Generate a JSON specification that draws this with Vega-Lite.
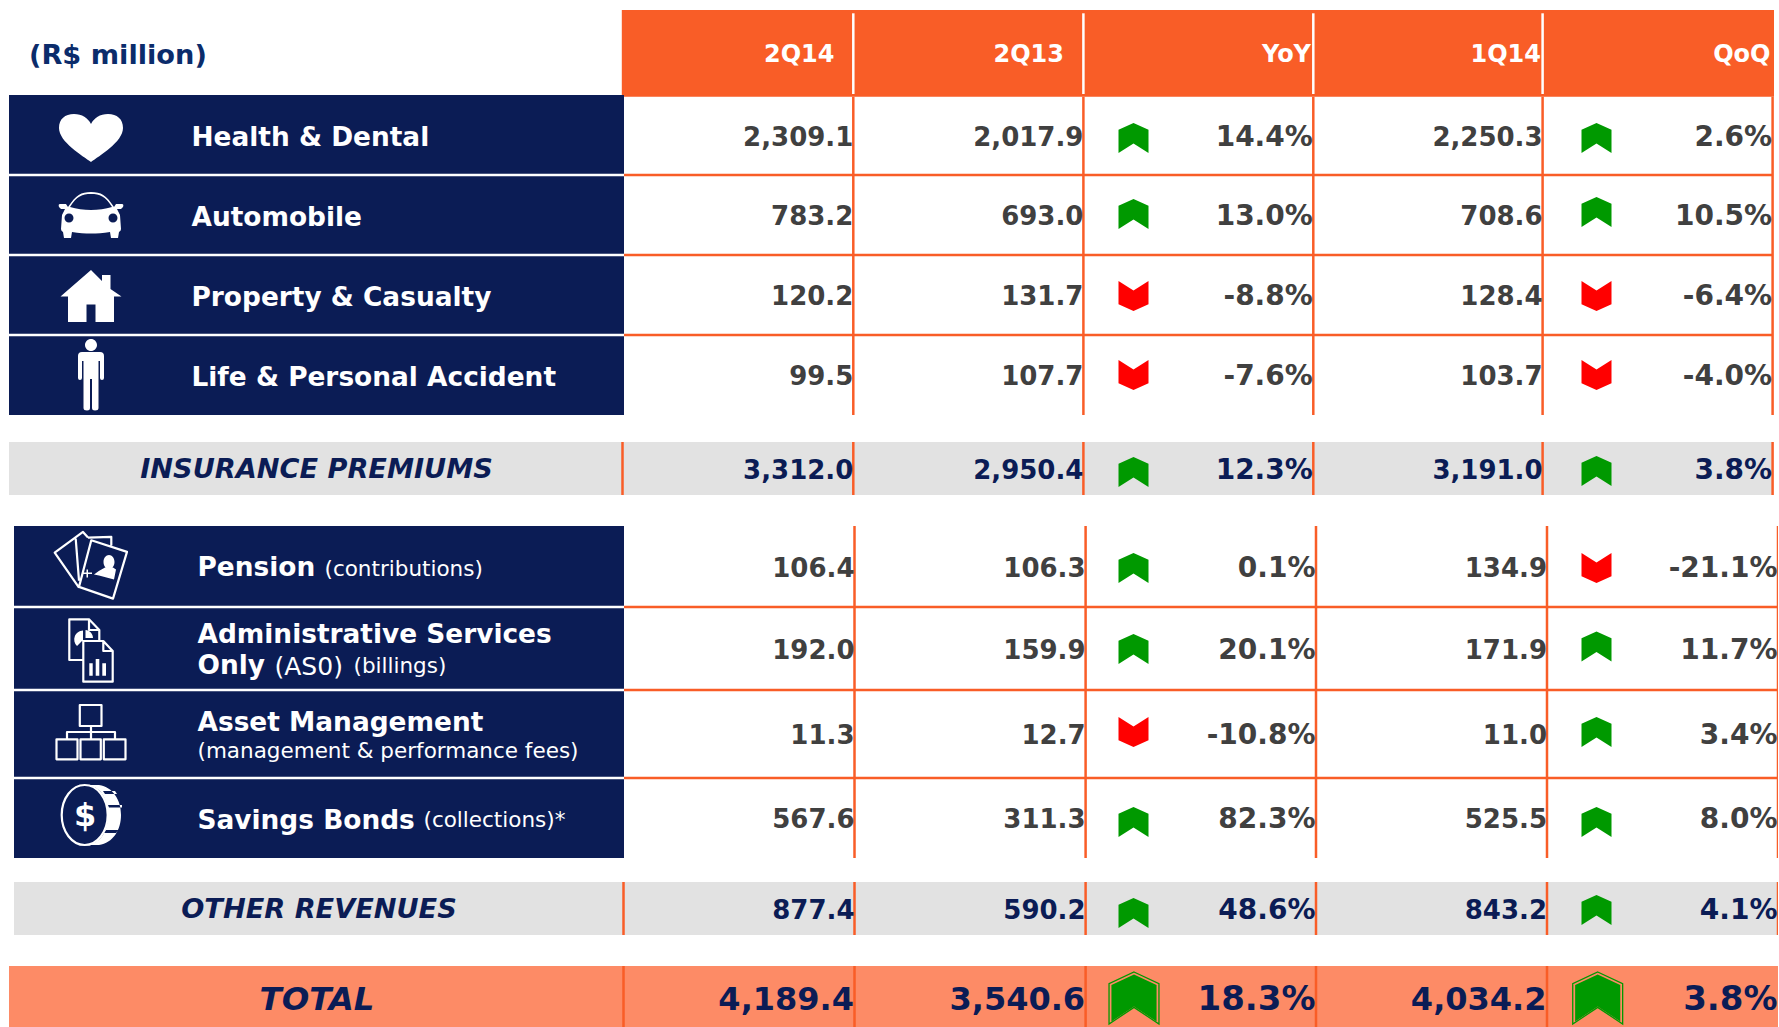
{
"$schema":"https://vega.github.io/schema/vega-lite/v6.json",
"width":1779,"height":1027,"padding":0,
"autosize":{"type":"fit","contains":"padding"},
"background":"white",
"config":{"view":{"stroke":null}},
"datasets":{
"header":[{"x":36,"x2":37,"y":0,"y2":20}],
"navy":[{"x":0,"x2":26,"y":19,"y2":5},{"x":7,"x2":26,"y":8,"y2":12}],
"grey":[{"x":0,"x2":6,"y":6,"y2":7},{"x":7,"x2":13,"y":13,"y2":14}],
"total":[{"x":0,"x2":30,"y":15,"y2":16}],
"whiteH":[{"x":0,"x2":26,"y":2},{"x":0,"x2":26,"y":3},{"x":0,"x2":26,"y":4},{"x":7,"x2":26,"y":9},{"x":7,"x2":26,"y":10},{"x":7,"x2":26,"y":11}],
"orangeH":[{"x":26,"x2":6,"y":2},{"x":26,"x2":6,"y":3},{"x":26,"x2":6,"y":4},{"x":26,"x2":13,"y":9},{"x":26,"x2":13,"y":10},{"x":26,"x2":13,"y":11}],
"orangeV":[{"x":2,"y":20,"y2":5},{"x":3,"y":20,"y2":5},{"x":4,"y":20,"y2":5},{"x":5,"y":20,"y2":5},{"x":6,"y":20,"y2":5},
{"x":1,"y":6,"y2":7},{"x":2,"y":6,"y2":7},{"x":3,"y":6,"y2":7},{"x":4,"y":6,"y2":7},{"x":5,"y":6,"y2":7},{"x":6,"y":6,"y2":7},
{"x":9,"y":8,"y2":12},{"x":10,"y":8,"y2":12},{"x":11,"y":8,"y2":12},{"x":12,"y":8,"y2":12},{"x":13,"y":8,"y2":12},
{"x":8,"y":13,"y2":14},{"x":9,"y":13,"y2":14},{"x":10,"y":13,"y2":14},{"x":11,"y":13,"y2":14},{"x":12,"y":13,"y2":14},{"x":13,"y":13,"y2":14},
{"x":8,"y":15,"y2":16},{"x":9,"y":15,"y2":16},{"x":10,"y":15,"y2":16},{"x":11,"y":15,"y2":16},{"x":12,"y":15,"y2":16}],
"whiteV":[{"x":2,"y":17,"y2":18},{"x":3,"y":17,"y2":18},{"x":4,"y":17,"y2":18},{"x":5,"y":17,"y2":18}],
"cellsGrey":[
{"x":2,"y":1.5,"text":"2,309.1"},{"x":3,"y":1.5,"text":"2,017.9"},{"x":5,"y":1.5,"text":"2,250.3"},
{"x":2,"y":2.5,"text":"783.2"},{"x":3,"y":2.5,"text":"693.0"},{"x":5,"y":2.5,"text":"708.6"},
{"x":2,"y":3.5,"text":"120.2"},{"x":3,"y":3.5,"text":"131.7"},{"x":5,"y":3.5,"text":"128.4"},
{"x":2,"y":4.5,"text":"99.5"},{"x":3,"y":4.5,"text":"107.7"},{"x":5,"y":4.5,"text":"103.7"},
{"x":9,"y":8.5,"text":"106.4"},{"x":10,"y":8.5,"text":"106.3"},{"x":12,"y":8.5,"text":"134.9"},
{"x":9,"y":9.5,"text":"192.0"},{"x":10,"y":9.5,"text":"159.9"},{"x":12,"y":9.5,"text":"171.9"},
{"x":9,"y":10.5,"text":"11.3"},{"x":10,"y":10.5,"text":"12.7"},{"x":12,"y":10.5,"text":"11.0"},
{"x":9,"y":11.5,"text":"567.6"},{"x":10,"y":11.5,"text":"311.3"},{"x":12,"y":11.5,"text":"525.5"}],
"pctGrey":[
{"x":4,"y":1.5,"text":"14.4%"},{"x":6,"y":1.5,"text":"2.6%"},
{"x":4,"y":2.5,"text":"13.0%"},{"x":6,"y":2.5,"text":"10.5%"},
{"x":4,"y":3.5,"text":"-8.8%"},{"x":6,"y":3.5,"text":"-6.4%"},
{"x":4,"y":4.5,"text":"-7.6%"},{"x":6,"y":4.5,"text":"-4.0%"},
{"x":11,"y":8.5,"text":"0.1%"},{"x":13,"y":8.5,"text":"-21.1%"},
{"x":11,"y":9.5,"text":"20.1%"},{"x":13,"y":9.5,"text":"11.7%"},
{"x":11,"y":10.5,"text":"-10.8%"},{"x":13,"y":10.5,"text":"3.4%"},
{"x":11,"y":11.5,"text":"82.3%"},{"x":13,"y":11.5,"text":"8.0%"}],
"cellsNavy":[
{"x":2,"y":6.5,"text":"3,312.0"},{"x":3,"y":6.5,"text":"2,950.4"},{"x":5,"y":6.5,"text":"3,191.0"},
{"x":9,"y":13.5,"text":"877.4"},{"x":10,"y":13.5,"text":"590.2"},{"x":12,"y":13.5,"text":"843.2"}],
"pctNavy":[{"x":4,"y":6.5,"text":"12.3%"},{"x":6,"y":6.5,"text":"3.8%"},{"x":11,"y":13.5,"text":"48.6%"},{"x":13,"y":13.5,"text":"4.1%"}],
"cellsTotal":[{"x":9,"y":15.5,"text":"4,189.4"},{"x":10,"y":15.5,"text":"3,540.6"},{"x":12,"y":15.5,"text":"4,034.2"}],
"pctTotal":[{"x":11,"y":15.5,"text":"18.3%"},{"x":13,"y":15.5,"text":"3.8%"}],
"headers":[{"x":31,"y":42,"text":"2Q14"},{"x":32,"y":42,"text":"2Q13"},{"x":33,"y":42,"text":"YoY"},{"x":34,"y":42,"text":"1Q14"},{"x":35,"y":42,"text":"QoQ"}],
"unit":[{"x":25,"y":42,"text":"(R$ million)"}],
"labels":[
{"x":19,"y":1.5,"text":"Health & Dental"},{"x":19,"y":2.5,"text":"Automobile"},{"x":19,"y":3.5,"text":"Property & Casualty"},{"x":19,"y":4.5,"text":"Life & Personal Accident"},
{"x":20,"y":36,"text":"Pension"},{"x":20,"y":37,"text":"Administrative Services"},{"x":20,"y":38,"text":"Only"},{"x":20,"y":39,"text":"Asset Management"},{"x":20,"y":41,"text":"Savings Bonds"}],
"subs":[
{"x":21,"y":45,"text":"(contributions)"},{"x":23,"y":46,"text":"(billings)"},{"x":20,"y":40,"text":"(management & performance fees)"},{"x":24,"y":47,"text":"(collections)*"}],
"subBig":[{"x":22,"y":46,"text":"(AS0)"}],
"sections":[{"x":27,"y":6.5,"text":"INSURANCE PREMIUMS"},{"x":28,"y":13.5,"text":"OTHER REVENUES"}],
"totalLabel":[{"x":29,"y":15.5,"text":"TOTAL"}],
"up":[{"x":14,"y":21},{"x":15,"y":21},{"x":14,"y":22},{"x":15,"y":23},{"x":14,"y":26},{"x":15,"y":27},{"x":14,"y":28},{"x":14,"y":29},{"x":15,"y":30},{"x":15,"y":31},{"x":14,"y":32},{"x":15,"y":32},{"x":14,"y":33},{"x":15,"y":34}],
"down":[{"x":14,"y":24},{"x":15,"y":24},{"x":14,"y":25},{"x":15,"y":25},{"x":15,"y":28},{"x":14,"y":31}],
"upBig":[{"x":16,"y":35},{"x":17,"y":35}],
"iconsFilled":[{"x":18,"y":21,"icon":"heart"},{"x":18,"y":44,"icon":"car"},{"x":18,"y":24,"icon":"house"},{"x":18,"y":25,"icon":"person"},{"x":18,"y":36,"icon":"bust"},{"x":18,"y":48,"icon":"docfill"},{"x":18,"y":49,"icon":"coinedge"}],
"iconsLine":[{"x":18,"y":36,"icon":"cards"},{"x":18,"y":48,"icon":"docs"},{"x":18,"y":31,"icon":"org"},{"x":18,"y":49,"icon":"coinface"}],
"dollar":[{"x":38,"y":43,"text":"$"}]
},
"encoding":{
"x":{"field":"x","type":"quantitative","axis":null,"scale":{"zero":false,"nice":false,
"domain":[0,1,2,3,4,5,6,7,8,9,10,11,12,13,14,15,16,17,18,19,20,21,22,23,24,25,26,27,28,29,30,31,32,33,34,35,36,37,38],
"range":[9,622.5,853.3,1083.4,1313.3,1542.6,1772.6,14,623.5,854.5,1085.6,1316,1547,1778,1133.5,1596.5,1134,1597.7,91,191.5,197.5,324.5,274.5,353.5,423.5,29,624,316.5,319,317,1779,834.5,1064,1311,1541,1770.5,621.8,1774,85]}},
"y":{"field":"y","type":"quantitative","axis":null,"scale":{"zero":false,"nice":false,
"domain":[0,1,2,3,4,5,6,7,8,9,10,11,12,13,14,15,16,17,18,19,20,21,22,23,24,25,26,27,28,29,30,31,32,33,34,35,36,37,38,39,40,41,42,43,44,45,46,47,48,49],
"range":[10,96,175,255,335,415,442,495,526,607,690,778,858,882,935,966,1034,13.3,94,95,96.7,138,214,212,296,375,472,471,568,649,646.5,732,822,913,910,998,565.6,632.2,663.6,720.9,751.7,818,55,816,215,569.7,666.8,821,650,815]}}
},
"layer":[
{"data":{"name":"header"},"mark":{"type":"rect","color":"#F95D27"},"encoding":{"x2":{"field":"x2"},"y2":{"field":"y2"}}},
{"data":{"name":"navy"},"mark":{"type":"rect","color":"#0B1C55"},"encoding":{"x2":{"field":"x2"},"y2":{"field":"y2"}}},
{"data":{"name":"grey"},"mark":{"type":"rect","color":"#E2E2E2"},"encoding":{"x2":{"field":"x2"},"y2":{"field":"y2"}}},
{"data":{"name":"total"},"mark":{"type":"rect","color":"#FD8B66","clip":true},"encoding":{"x2":{"field":"x2"},"y2":{"field":"y2"}}},
{"data":{"name":"whiteH"},"mark":{"type":"rule","color":"#FFFFFF","strokeWidth":2.5},"encoding":{"x2":{"field":"x2"}}},
{"data":{"name":"orangeH"},"mark":{"type":"rule","color":"#F95D27","strokeWidth":2.5},"encoding":{"x2":{"field":"x2"}}},
{"data":{"name":"orangeV"},"mark":{"type":"rule","color":"#F95D27","strokeWidth":2.5,"clip":true},"encoding":{"y2":{"field":"y2"}}},
{"data":{"name":"whiteV"},"mark":{"type":"rule","color":"#FFFFFF","strokeWidth":2.5},"encoding":{"y2":{"field":"y2"}}},
{"data":{"name":"cellsGrey"},"mark":{"type":"text","align":"right","baseline":"middle","dy":2,"font":"DejaVu Sans","fontWeight":"bold","fontSize":26,"color":"#404040"},"encoding":{"text":{"field":"text"}}},
{"data":{"name":"pctGrey"},"mark":{"type":"text","align":"right","baseline":"middle","dy":2,"dx":-0.5,"font":"DejaVu Sans","fontWeight":"bold","fontSize":28,"color":"#404040"},"encoding":{"text":{"field":"text"}}},
{"data":{"name":"cellsNavy"},"mark":{"type":"text","align":"right","baseline":"middle","dy":2,"font":"DejaVu Sans","fontWeight":"bold","fontSize":26,"color":"#0B1C55"},"encoding":{"text":{"field":"text"}}},
{"data":{"name":"pctNavy"},"mark":{"type":"text","align":"right","baseline":"middle","dy":2,"dx":-0.5,"font":"DejaVu Sans","fontWeight":"bold","fontSize":28,"color":"#0B1C55"},"encoding":{"text":{"field":"text"}}},
{"data":{"name":"cellsTotal"},"mark":{"type":"text","align":"right","baseline":"middle","dx":-0.5,"font":"DejaVu Sans","fontWeight":"bold","fontSize":32,"color":"#0B1C55"},"encoding":{"text":{"field":"text"}}},
{"data":{"name":"pctTotal"},"mark":{"type":"text","align":"right","baseline":"middle","dx":-0.5,"font":"DejaVu Sans","fontWeight":"bold","fontSize":34,"color":"#0B1C55"},"encoding":{"text":{"field":"text"}}},
{"data":{"name":"headers"},"mark":{"type":"text","align":"right","baseline":"middle","font":"DejaVu Sans","fontWeight":"bold","fontSize":24,"color":"#FFFFFF"},"encoding":{"text":{"field":"text"}}},
{"data":{"name":"unit"},"mark":{"type":"text","align":"left","baseline":"middle","dy":1,"font":"DejaVu Sans","fontWeight":"bold","fontSize":27.2,"color":"#0B2C6B"},"encoding":{"text":{"field":"text"}}},
{"data":{"name":"labels"},"mark":{"type":"text","align":"left","baseline":"middle","dy":2.5,"font":"DejaVu Sans","fontWeight":"bold","fontSize":26.4,"color":"#FFFFFF"},"encoding":{"text":{"field":"text"}}},
{"data":{"name":"subs"},"mark":{"type":"text","align":"left","baseline":"middle","font":"DejaVu Sans","fontSize":21.5,"color":"#FFFFFF"},"encoding":{"text":{"field":"text"}}},
{"data":{"name":"subBig"},"mark":{"type":"text","align":"left","baseline":"middle","font":"DejaVu Sans","fontSize":25,"color":"#FFFFFF"},"encoding":{"text":{"field":"text"}}},
{"data":{"name":"sections"},"mark":{"type":"text","align":"center","baseline":"middle","dy":1.5,"font":"DejaVu Sans","fontWeight":"bold","fontStyle":"italic","fontSize":27.2,"color":"#0B1C55"},"encoding":{"text":{"field":"text"}}},
{"data":{"name":"totalLabel"},"mark":{"type":"text","align":"center","baseline":"middle","font":"DejaVu Sans","fontWeight":"bold","fontStyle":"italic","fontSize":32.4,"color":"#0B1C55"},"encoding":{"text":{"field":"text"}}},
{"data":{"name":"up"},"mark":{"type":"point","filled":true,"opacity":1,"size":900,"color":"#009900","shape":"M0,-1 L1,-0.55 L1,1 L0,0.36 L-1,1 L-1,-0.55Z"}},
{"data":{"name":"down"},"mark":{"type":"point","filled":true,"opacity":1,"size":900,"color":"#FF0000","shape":"M0,1 L1,0.55 L1,-1 L0,-0.36 L-1,-1 L-1,0.55Z"}},
{"data":{"name":"upBig"},"mark":{"type":"point","filled":false,"opacity":1,"size":2704,"color":"#009900","strokeWidth":1.3,"shape":"M0,-1 L0.96,-0.55 L0.96,1 L0,0.36 L-0.96,1 L-0.96,-0.55Z"}},
{"data":{"name":"upBig"},"mark":{"type":"point","filled":true,"opacity":1,"size":2209,"color":"#009900","shape":"M0,-1 L0.96,-0.55 L0.96,1 L0,0.36 L-0.96,1 L-0.96,-0.55Z"}},
{"data":{"name":"iconsFilled"},"mark":{"type":"point","filled":true,"opacity":1,"size":4,"color":"#FFFFFF"},"encoding":{"shape":{"field":"icon","type":"nominal","legend":null,"scale":{"domain":["heart","car","house","person","bust","docfill","coinedge","cards","docs","org","coinface"],"range":[
"M0,24 C-8,18 -32,4 -32,-10 C-32,-19 -26,-24 -17,-24 C-9,-24 -3,-20 0,-14 C3,-20 9,-24 17,-24 C26,-24 32,-19 32,-10 C32,4 8,18 0,24Z",
"M-23,-8 C-15,-20 -10,-23 0,-23 C10,-23 15,-20 23,-8 L25,-11 L31,-11 Q33,-11 32,-8 L30,-6 L26,-6 L29,0 L30,14 Q30,16 28,17 L27,23 L20,23 L19,17 C5,19 -5,19 -19,17 L-20,23 L-27,23 L-28,17 Q-30,16 -30,14 L-29,0 L-26,-6 L-30,-6 L-32,-8 Q-33,-11 -31,-11 L-25,-11 Z M-21,-8 C-8,-4 8,-4 21,-8 C14,-19 9,-21 0,-21 C-9,-21 -14,-19 -21,-8Z M-17.5,3 A4.5,4.5 0 1 0 -26.5,3 A4.5,4.5 0 1 0 -17.5,3Z M26.5,3 A4.5,4.5 0 1 0 17.5,3 A4.5,4.5 0 1 0 26.5,3Z",
"M0,-26 L11,-15 L11,-21 L19.5,-21 L19.5,-7 L30.5,0.5 L23,0.5 L23,26 L4.5,26 L4.5,8.5 L-4.5,8.5 L-4.5,26 L-23,26 L-23,0.5 L-30.5,0.5Z",
"M-9,-23 L9,-23 Q13,-23 13,-19 L13,3 Q13,5 11,5 Q9,5 9,3 L9,-14 L7.5,-14 L7.5,33 Q7.5,35.5 4,35.5 Q1,35.5 1,33 L1,4 L-1,4 L-1,33 Q-1,35.5 -4,35.5 Q-7.5,35.5 -7.5,33 L-7.5,-14 L-9,-14 L-9,3 Q-9,5 -11,5 Q-13,5 -13,3 L-13,-19 Q-13,-23 -9,-23Z M6,-30 A6,6 0 1 1 -6,-30 A6,6 0 1 1 6,-30Z",
"M23.5,-3.5 A5.5,7 0 1 1 12.5,-3.5 A5.5,7 0 1 1 23.5,-3.5Z M14,2 L22,2 L25,4 L23,14 L8,10 L3,9 Q8,5 14,2Z M-5,7 L-4.5,7 L-4.5,4 L-3,4 L-3,7 L1,7 L1,8.5 L-3,8.5 L-3,12 L-4.5,12 L-4.5,8.5 L-8,8.5 L-8,7Z",
"M-8,-19.5 A9,9 0 0 0 -14,-4 L-9,-9 L-8,-9Z M-5.5,-20 A8,8 0 0 1 2,-12 L-5.5,-12Z M-1.7,13.3 L1.7,13.3 L1.7,25.7 L-1.7,25.7Z M4.7,9 L8.3,9 L8.3,25.7 L4.7,25.7Z M11.3,13.3 L15,13.3 L15,25.7 L11.3,25.7Z",
"M-6,-30 L8,-30 C22,-28 30,-15 30,0 C30,15 22,28 8,30 L-6,30 C10,30 17,15 17,0 C17,-15 10,-30 -6,-30Z M12,-24 L14,-21 L26,-21 L24,-24Z M17,-10 L18,-7.5 L31,-7.5 L31,-10Z M15,15 L13,18 L25,18 L27,15Z",
"M0.3,-25.3 L36,-13.7 L22,33 L-12,21.3Z M-12,22 L-36.3,-13 L-8,-33.7 L-3,-28 M-15.3,-27 L-12,15 M-3,-28 L20.3,-28.7 L20.3,-20",
"M-7.7,10 L-21.7,10 L-21.7,-30.7 L-2,-30.7 L8.3,-20 L8.3,-10 M-2,-30.7 L-2,-20 L8.3,-20 M-7.7,-9 L12.3,-9 L21.7,1 L21.7,31.7 L-7.7,31.7Z M12.3,-9 L12.3,1 L21.7,1",
"M-11.2,-27 L10.5,-27 L10.5,-6 L-11.2,-6Z M-34.5,7.3 L-13.5,7.3 L-13.5,27.3 L-34.5,27.3Z M-10.5,7.3 L9.8,7.3 L9.8,27.3 L-10.5,27.3Z M12.8,7.3 L34.5,7.3 L34.5,27.3 L12.8,27.3Z M0,-6 L0,7.3 M-24,7.3 L-24,0 L24,0 L24,7.3",
"M-6.3,-30 A23,30 0 1 1 -6.3,30 A23,30 0 1 1 -6.3,-30Z"
]}}}},
{"data":{"name":"iconsLine"},"mark":{"type":"point","filled":false,"opacity":1,"size":4,"color":"#FFFFFF","strokeWidth":2.2,"strokeJoin":"round"},"encoding":{"shape":{"field":"icon","type":"nominal","legend":null,"scale":{"domain":["heart","car","house","person","bust","docfill","coinedge","cards","docs","org","coinface"],"range":[
"M0,24 C-8,18 -32,4 -32,-10 C-32,-19 -26,-24 -17,-24 C-9,-24 -3,-20 0,-14 C3,-20 9,-24 17,-24 C26,-24 32,-19 32,-10 C32,4 8,18 0,24Z",
"M-23,-8 C-15,-20 -10,-23 0,-23 C10,-23 15,-20 23,-8 L25,-11 L31,-11 Q33,-11 32,-8 L30,-6 L26,-6 L29,0 L30,14 Q30,16 28,17 L27,23 L20,23 L19,17 C5,19 -5,19 -19,17 L-20,23 L-27,23 L-28,17 Q-30,16 -30,14 L-29,0 L-26,-6 L-30,-6 L-32,-8 Q-33,-11 -31,-11 L-25,-11 Z M-21,-8 C-8,-4 8,-4 21,-8 C14,-19 9,-21 0,-21 C-9,-21 -14,-19 -21,-8Z M-17.5,3 A4.5,4.5 0 1 0 -26.5,3 A4.5,4.5 0 1 0 -17.5,3Z M26.5,3 A4.5,4.5 0 1 0 17.5,3 A4.5,4.5 0 1 0 26.5,3Z",
"M0,-26 L11,-15 L11,-21 L19.5,-21 L19.5,-7 L30.5,0.5 L23,0.5 L23,26 L4.5,26 L4.5,8.5 L-4.5,8.5 L-4.5,26 L-23,26 L-23,0.5 L-30.5,0.5Z",
"M-9,-23 L9,-23 Q13,-23 13,-19 L13,3 Q13,5 11,5 Q9,5 9,3 L9,-14 L7.5,-14 L7.5,33 Q7.5,35.5 4,35.5 Q1,35.5 1,33 L1,4 L-1,4 L-1,33 Q-1,35.5 -4,35.5 Q-7.5,35.5 -7.5,33 L-7.5,-14 L-9,-14 L-9,3 Q-9,5 -11,5 Q-13,5 -13,3 L-13,-19 Q-13,-23 -9,-23Z M6,-30 A6,6 0 1 1 -6,-30 A6,6 0 1 1 6,-30Z",
"M23.5,-3.5 A5.5,7 0 1 1 12.5,-3.5 A5.5,7 0 1 1 23.5,-3.5Z M14,2 L22,2 L25,4 L23,14 L8,10 L3,9 Q8,5 14,2Z M-5,7 L-4.5,7 L-4.5,4 L-3,4 L-3,7 L1,7 L1,8.5 L-3,8.5 L-3,12 L-4.5,12 L-4.5,8.5 L-8,8.5 L-8,7Z",
"M-8,-19.5 A9,9 0 0 0 -14,-4 L-9,-9 L-8,-9Z M-5.5,-20 A8,8 0 0 1 2,-12 L-5.5,-12Z M-1.7,13.3 L1.7,13.3 L1.7,25.7 L-1.7,25.7Z M4.7,9 L8.3,9 L8.3,25.7 L4.7,25.7Z M11.3,13.3 L15,13.3 L15,25.7 L11.3,25.7Z",
"M-6,-30 L8,-30 C22,-28 30,-15 30,0 C30,15 22,28 8,30 L-6,30 C10,30 17,15 17,0 C17,-15 10,-30 -6,-30Z M12,-24 L14,-21 L26,-21 L24,-24Z M17,-10 L18,-7.5 L31,-7.5 L31,-10Z M15,15 L13,18 L25,18 L27,15Z",
"M0.3,-25.3 L36,-13.7 L22,33 L-12,21.3Z M-12,22 L-36.3,-13 L-8,-33.7 L-3,-28 M-15.3,-27 L-12,15 M-3,-28 L20.3,-28.7 L20.3,-20",
"M-7.7,10 L-21.7,10 L-21.7,-30.7 L-2,-30.7 L8.3,-20 L8.3,-10 M-2,-30.7 L-2,-20 L8.3,-20 M-7.7,-9 L12.3,-9 L21.7,1 L21.7,31.7 L-7.7,31.7Z M12.3,-9 L12.3,1 L21.7,1",
"M-11.2,-27 L10.5,-27 L10.5,-6 L-11.2,-6Z M-34.5,7.3 L-13.5,7.3 L-13.5,27.3 L-34.5,27.3Z M-10.5,7.3 L9.8,7.3 L9.8,27.3 L-10.5,27.3Z M12.8,7.3 L34.5,7.3 L34.5,27.3 L12.8,27.3Z M0,-6 L0,7.3 M-24,7.3 L-24,0 L24,0 L24,7.3",
"M-6.3,-30 A23,30 0 1 1 -6.3,30 A23,30 0 1 1 -6.3,-30Z"
]}}}},
{"data":{"name":"dollar"},"mark":{"type":"text","align":"center","baseline":"middle","font":"DejaVu Sans","fontWeight":"bold","fontSize":32,"color":"#FFFFFF"},"encoding":{"text":{"field":"text"}}}
]
}
